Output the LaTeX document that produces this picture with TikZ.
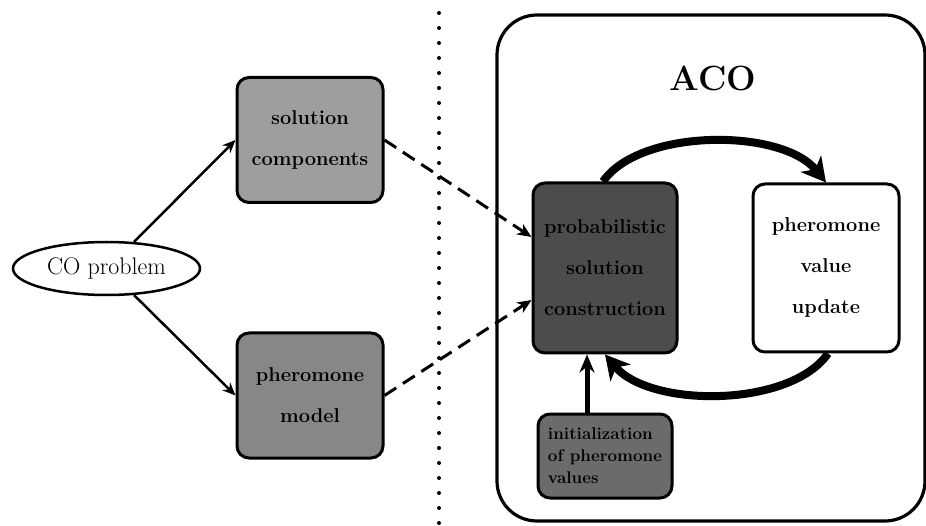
\documentclass[tikz,border=0pt]{standalone}
\usetikzlibrary{arrows.meta,shapes.geometric}

\tikzset{
  boxbase/.style={draw, line width=3pt, rounded corners=12pt, inner sep=0pt,
    align=center, font=\bfseries\fontsize{20}{41}\selectfont},
  lightbox/.style={boxbase, fill=black!38},
  midbox/.style={boxbase, fill=black!47},
  darkbox/.style={boxbase, fill=black!70},
  plainbox/.style={boxbase, fill=white},
  feed/.style={line width=2.5pt, -{Stealth[length=13pt,width=11pt]}},
  maps/.style={line width=3pt, dash pattern=on 14pt off 8pt,
    -{Stealth[length=14pt,width=12pt,inset=4pt]}},
  cycle/.style={line width=8pt, -{Stealth[length=24pt,width=26pt,inset=7pt]}},
  initarrow/.style={line width=5pt, -{Stealth[length=18pt,width=15pt]}}
}

\begin{document}
\begin{tikzpicture}[x=1pt,y=-1pt]
  \useasboundingbox (0,0) rectangle (926,526);

  % dotted divider between problem side and algorithm side
  \coordinate (divtop) at (439,13);
  \coordinate (divbot) at (439,526);
  \draw[line width=4pt, line cap=round, dash pattern=on 0pt off 15pt] (divtop) -- (divbot);

  % ACO frame and title
  \node[draw, line width=3.2pt, rounded corners=40pt, minimum width=428pt,
        minimum height=506pt, inner sep=0pt] (aco) at (711,268) {};
  \node[font=\bfseries\fontsize{35}{40}\selectfont] (acotitle) at (713,78) {ACO};

  % problem side
  \node[draw, ellipse, line width=2.5pt, minimum width=187pt, minimum height=53pt,
        inner sep=0pt, font=\fontsize{24}{28}\selectfont] (co) at (106.5,268.5) {CO problem};
  \node[lightbox, minimum width=146pt, minimum height=125pt] (solcomp) at (310,140)
    {solution\\components};
  \node[midbox, minimum width=146pt, minimum height=125pt] (phmodel) at (310,395.5)
    {pheromone\\model};

  % algorithm side
  \node[darkbox, minimum width=144pt, minimum height=170pt] (prob) at (605,268)
    {probabilistic\\solution\\construction};
  \node[plainbox, minimum width=146pt, minimum height=168pt] (upd) at (826,268)
    {pheromone\\value\\update};
  \node[midbox, fill=black!58, minimum width=134pt, minimum height=84pt, align=left,
        font=\bfseries\fontsize{17}{22}\selectfont] (init) at (605,456)
    {initialization\\of pheromone\\values};

  % connectors
  \draw[feed] (co.44) -- (solcomp.west);
  \draw[feed] (co.-44) -- (phmodel.west);

  \draw[maps] (solcomp.east) -- ([yshift=31pt]prob.west);
  \draw[maps] (phmodel.east) -- ([yshift=-32pt]prob.west);

  \draw[cycle] ([xshift=-2pt]prob.north) .. controls (640,128) and (782,128) .. (upd.north);
  \draw[cycle] ([xshift=2pt]upd.south) .. controls (790,408) and (650,408) .. (prob.south);

  \draw[initarrow] ([xshift=-18pt]init.north) -- ([xshift=-18pt]prob.south);
\end{tikzpicture}
\end{document}
